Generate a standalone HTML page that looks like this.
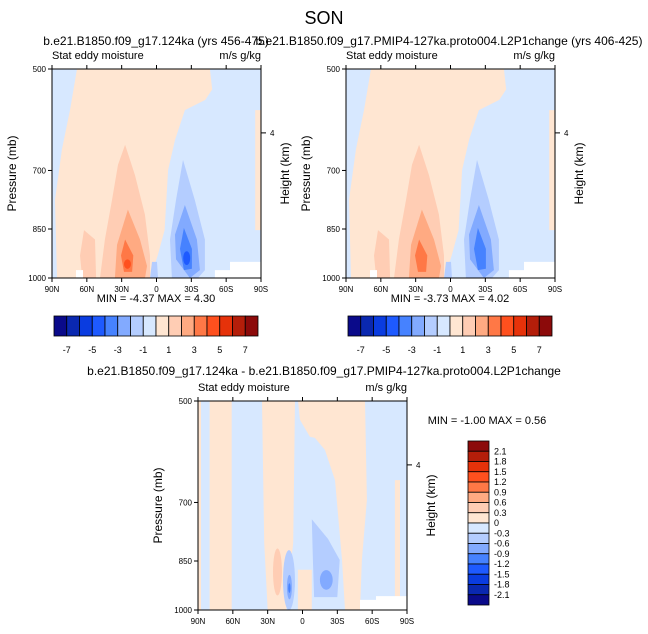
<!DOCTYPE html>
<html><head><meta charset="utf-8"><style>
body{margin:0;background:#fff;}
svg{display:block;font-family:"Liberation Sans",sans-serif;}
</style></head><body>
<svg id="c" width="648" height="634" viewBox="0 0 648 634" xmlns="http://www.w3.org/2000/svg">
<text x="324" y="24" font-size="18" text-anchor="middle">SON</text>
<text x="156" y="45" font-size="12" text-anchor="middle">b.e21.B1850.f09_g17.124ka (yrs 456-475)</text>
<text x="449" y="45" font-size="12" text-anchor="middle">b.e21.B1850.f09_g17.PMIP4-127ka.proto004.L2P1change (yrs 406-425)</text>
<text x="324" y="375" font-size="12" text-anchor="middle">b.e21.B1850.f09_g17.124ka - b.e21.B1850.f09_g17.PMIP4-127ka.proto004.L2P1change</text>
</svg>
<script>
const palette=["#0a0a8a","#0a28b0","#0a3ce0","#1e5aff","#4682ff","#82aaff","#b4cdff","#d7e8ff","#ffe6d2","#ffcdb4","#ffaa82","#ff7846","#ff501e","#e6320a","#b41e0a","#8c0a0a"];
const latTicks=[90,60,30,0,-30,-60,-90];
const latLabels=["90N","60N","30N","0","30S","60S","90S"];
const pTicks=[500,700,850,1000];
const hTickP=618; // pressure of 4 km
const cbLabels1=["-7","-5","-3","-1","1","3","5","7"];
const cbLabels3=["2.1","1.8","1.5","1.2","0.9","0.6","0.3","0","-0.3","-0.6","-0.9","-1.2","-1.5","-1.8","-2.1"];
const orangeA=[[68.5,500],[-46,500],[-48,535],[-42,554],[-24.5,573],[-16,632],[-10,699],[-7,853],[-1,928],[5.6,1000],[85.7,1000],[87.4,772],[81.4,652],[74.5,573]];
const orangeEdge=[[-85,573],[-90,573],[-90,853],[-85,853]];
const o30=[[27,643],[18.5,711],[10,810],[5.6,928],[5.6,1000],[48.7,1000],[44.4,880],[38.3,772],[33.2,687]];
const o60=[[62.4,853],[53,880],[52,1000],[64,1000],[65.9,928]];
const o30b=[[24.6,797],[14.2,880],[8.2,961],[9.9,1000],[35.8,1000],[34,896]];
const o30c=[[27,880],[20,928],[21,980],[28,980],[30.6,928]];
const b30=[[-22.8,676],[-33,772],[-41.7,880],[-41.7,974],[-35.7,1000],[-13.3,1000],[-11.6,880],[-16.8,772]];
const b0=[[3.9,948],[-0.4,948],[-1.3,1000],[5.6,1000]];
const b30b=[[-24.5,785],[-34.8,880],[-37.4,974],[-28.8,1000],[-16.8,940],[-15.9,866]];
const b30c=[[-23.6,847],[-30.5,908],[-30.5,970],[-23.6,974],[-20.2,908]];
const white1=[[-50.3,974],[-63.3,974],[-63.3,948],[-90,948],[-90,1000],[-50.3,1000]];
const white2=[[69.3,974],[63.3,974],[63.3,1000],[69.3,1000]];
const panel1=[[8,orangeA],[8,orangeEdge],[9,o30],[9,o60],[10,o30b],[11,o30c],[6,b30],[6,b0],[5,b30b],[4,b30c],[-1,white1],[-1,white2]];
const panel1Ell=[[12,22,28,940,970],[3,-23,-29,915,958]];
const panel2=[[8,orangeA],[8,orangeEdge],[9,o30],[9,o60],[10,o30b],[11,o30c],[6,b30],[6,b0],[5,b30b],[4,b30c],[-1,white1],[-1,white2]];
const panel2Ell=[];
const p3A=[[80,500],[61,500],[61,1000],[80,1000]];
const p3L=[[90,500],[87.4,500],[87.4,1000],[90,1000]];
const p3B=[[34.9,500],[6.5,500],[8,800],[14,1000],[30,1000],[33,800]];
const p3C=[[3.9,500],[-53.8,500],[-55.5,694],[-51.2,847],[-49.5,1000],[-36.6,1000],[-34,847],[-28,650],[-19.3,588],[-10.7,565],[-6.4,563],[2.2,532]];
const p3D=[[4,875],[-8,875],[-8,1000],[4,1000]];
const p3E=[[-79.6,650],[-84,650],[-84,967],[-79.6,967]];
const p3Blue=[[-8,740],[-22,790],[-32,847],[-30,958],[-10,958],[-9,847]];
const p3W=[[-49.5,967],[-63.3,967],[-63.3,955],[-90,955],[-90,1000],[-49.5,1000]];
const panel3=[[8,p3L],[8,p3A],[8,p3B],[8,p3C],[8,p3D],[8,p3E],[6,p3Blue],[-1,p3W]];
const panel3Ell=[[9,25.4,17.7,815,953],[6,16.8,6.5,820,1000],[5,13.4,9.1,890,965],[4,12.3,10.3,915,945],[5,-15,-26,876,935]];

const svg=document.getElementById('c');
const NS="http://www.w3.org/2000/svg";
function mk(t,a,p){const e=document.createElementNS(NS,t);for(const k in a)e.setAttribute(k,a[k]);(p||svg).appendChild(e);return e;}
function txt(x,y,s,opts,p){const e=mk('text',Object.assign({x:x,y:y},opts),p);e.textContent=s;return e;}

function drawPanel(id,x0,y0,polys,ells){
  const W=209,H=209;
  const X=lat=>x0+(90-lat)/180*W;
  const Y=p=>y0+Math.log(p/500)/Math.log(2)*H;
  const g=mk('g',{});
  
  
  const cp=mk('clipPath',{id:id+'clip'},g);
  mk('rect',{x:x0,y:y0,width:W,height:H},cp);
  const bg=mk('rect',{x:x0,y:y0,width:W,height:H,fill:palette[7]},g);
  
  
  const cg=mk('g',{'clip-path':'url(#'+id+'clip)'},g);
  polys.forEach(([lv,pts])=>{
    const e=mk('polygon',{points:pts.map(([la,p])=>X(la).toFixed(1)+','+Y(p).toFixed(1)).join(' '),fill:lv<0?'#fff':palette[lv]},cg);
    
    
  });
  ells.forEach(([lv,la1,la2,p1,p2])=>{
    const cx=(X(la1)+X(la2))/2,cy=(Y(p1)+Y(p2))/2;
    const e=mk('ellipse',{cx:cx,cy:cy,rx:Math.abs(X(la2)-X(la1))/2,ry:Math.abs(Y(p2)-Y(p1))/2,fill:palette[lv]},cg);
    
    
  });
  const fr=mk('rect',{x:x0,y:y0,width:W,height:H,fill:'none',stroke:'#000','stroke-width':1},g);
  
  
  latTicks.forEach((la,i)=>{
    mk('line',{x1:X(la),x2:X(la),y1:y0+H,y2:y0+H+4,stroke:'#000'},g);
    mk('line',{x1:X(la),x2:X(la),y1:y0,y2:y0-4,stroke:'#000'},g);
    const t=txt(X(la),y0+H+14,latLabels[i],{'font-size':8,'text-anchor':'middle'},g);
    
    
  });
  pTicks.forEach(p=>{
    mk('line',{x1:x0-4,x2:x0,y1:Y(p),y2:Y(p),stroke:'#000'},g);
    const t=txt(x0-6,Y(p)+3,String(p),{'font-size':8,'text-anchor':'end'},g);
    
    
  });
  mk('line',{x1:x0+W,x2:x0+W+5,y1:Y(hTickP),y2:Y(hTickP),stroke:'#000'},g);
  const h=txt(x0+W+9,Y(hTickP)+3,'4',{'font-size':8},g);
  
  
  const yt=txt(0,0,'Pressure (mb)',{'font-size':12,'text-anchor':'middle',transform:`translate(${x0-36},${y0+H/2}) rotate(-90)`},g);
  
  
  const ht=txt(0,0,'Height (km)',{'font-size':12,'text-anchor':'middle',transform:`translate(${x0+W+28},${y0+H/2}) rotate(-90)`},g);
  
  
  const l=txt(x0,y0-10,'Stat eddy moisture',{'font-size':11},g);
  
  
  const r=txt(x0+W,y0-10,'m/s g/kg',{'font-size':11,'text-anchor':'end'},g);
  
  
}
function hbar(id,x0,y0,w,h){
  const bw=w/16;
  palette.forEach((c,i)=>{
    const e=mk('rect',{x:x0+i*bw,y:y0,width:bw,height:h,fill:c,stroke:'#000','stroke-width':0.8});
    
    
  });
  cbLabels1.forEach((s,i)=>{
    const t=txt(x0+(1+2*i)*bw,y0+h+17,s,{'font-size':9,'text-anchor':'middle'});
    
    
  });
}
drawPanel('panel1',52,69,panel1,panel1Ell);
drawPanel('panel2',346,69,panel2,panel2Ell);
drawPanel('panel3',198,401,panel3,panel3Ell);
hbar('panel1',54,316,204,20);
hbar('panel2',348,316,204,20);
let t=txt(156,302,'MIN =  -4.37  MAX =   4.30',{'font-size':11,'text-anchor':'middle'});


t=txt(450,302,'MIN =  -3.73  MAX =   4.02',{'font-size':11,'text-anchor':'middle'});


t=txt(487,424,'MIN =  -1.00  MAX =   0.56',{'font-size':11,'text-anchor':'middle'});


const vx=468,vy=441,vw=21,vh=164,bh=vh/16;
palette.slice().reverse().forEach((c,i)=>{
  const e=mk('rect',{x:vx,y:vy+i*bh,width:vw,height:bh,fill:c,stroke:'#000','stroke-width':0.8});
  
  
});
cbLabels3.forEach((s,i)=>{
  const e=txt(vx+vw+5,vy+(i+1)*bh+3,s,{'font-size':9});
  
  
});
</script>
</body></html>
